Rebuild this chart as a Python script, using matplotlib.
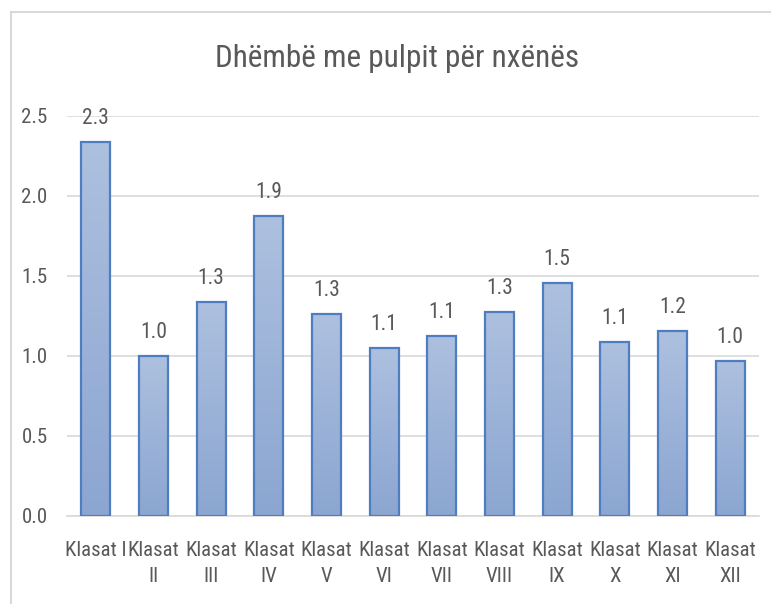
import numpy as np
import matplotlib.pyplot as plt
from matplotlib.patches import Rectangle
from matplotlib.colors import LinearSegmentedColormap


# =============================
# Data
# =============================
classes = ["Klasat I", "Klasat\nII", "Klasat\nIII", "Klasat\nIV", "Klasat\nV", "Klasat\nVI",
           "Klasat\nVII", "Klasat\nVIII", "Klasat\nIX", "Klasat\nX", "Klasat\nXI", "Klasat\nXII"]
values = [2.34, 1.00, 1.34, 1.875, 1.26, 1.05, 1.125, 1.275, 1.456, 1.09, 1.156, 0.97]
y_ticks = [0.0, 0.5, 1.0, 1.5, 2.0, 2.5]
title = "Dhëmbë me pulpit për nxënës"

plt.rcParams["font.family"] = ["Roboto Condensed", "DejaVu Sans"]
plt.rcParams["font.weight"] = "normal"
text_color = "#595959"
grid_color = "#D9D9D9"
edge_color = "#4F7EC0"

fig = plt.figure(figsize=(7.71, 6.04), dpi=100)
ax = fig.add_axes([0.0869, 0.1457, 0.8975, 0.6623])

# Outer chart frame (partially cropped in the reference)
fig.patches.append(Rectangle((11 / 771, -0.01), 1.0, 1 - 12 / 604 + 0.01,
                             transform=fig.transFigure, fill=False,
                             edgecolor=grid_color, linewidth=1.5))

x = np.arange(len(classes))
bars = ax.bar(x, values, width=0.5, facecolor="none", edgecolor=edge_color,
              linewidth=1.6, zorder=3)

# Vertical gradient fill for each bar
cmap = LinearSegmentedColormap.from_list("bar_grad", ["#8BA6D1", "#ADC0DF"])
grad = np.linspace(0, 1, 256).reshape(-1, 1)
for b in bars:
    x0, w, h = b.get_x(), b.get_width(), b.get_height()
    im = ax.imshow(grad, cmap=cmap, origin="lower", aspect="auto",
                   extent=(x0, x0 + w, 0, h), zorder=2)
    im.set_clip_path(b)

for xi, v in zip(x, values):
    ax.annotate(f"{v:.1f}", (xi, v), xytext=(0, 13), textcoords="offset points",
                ha="center", va="baseline", fontsize=15.5, color=text_color)

ax.set_xlim(-0.5, len(classes) - 0.5)
ax.set_ylim(0, 2.5)
ax.set_yticks(y_ticks)
ax.set_yticklabels([f"{t:.1f}" for t in y_ticks])
ax.set_xticks(x)
ax.set_xticklabels(classes, linespacing=1.45)

ax.yaxis.grid(True, color=grid_color, linewidth=1.2, zorder=0)
ax.set_axisbelow(True)
for s in ["top", "right", "left"]:
    ax.spines[s].set_visible(False)
ax.spines["bottom"].set_color(grid_color)
ax.spines["bottom"].set_linewidth(1.2)
ax.tick_params(axis="both", length=0, labelsize=15, labelcolor=text_color)
ax.tick_params(axis="x", pad=18)
ax.tick_params(axis="y", pad=14)

fig.text(0.515, 0.889, title, ha="center", va="baseline", fontsize=22.5, color=text_color)

fig.savefig("out.png", dpi=100)
